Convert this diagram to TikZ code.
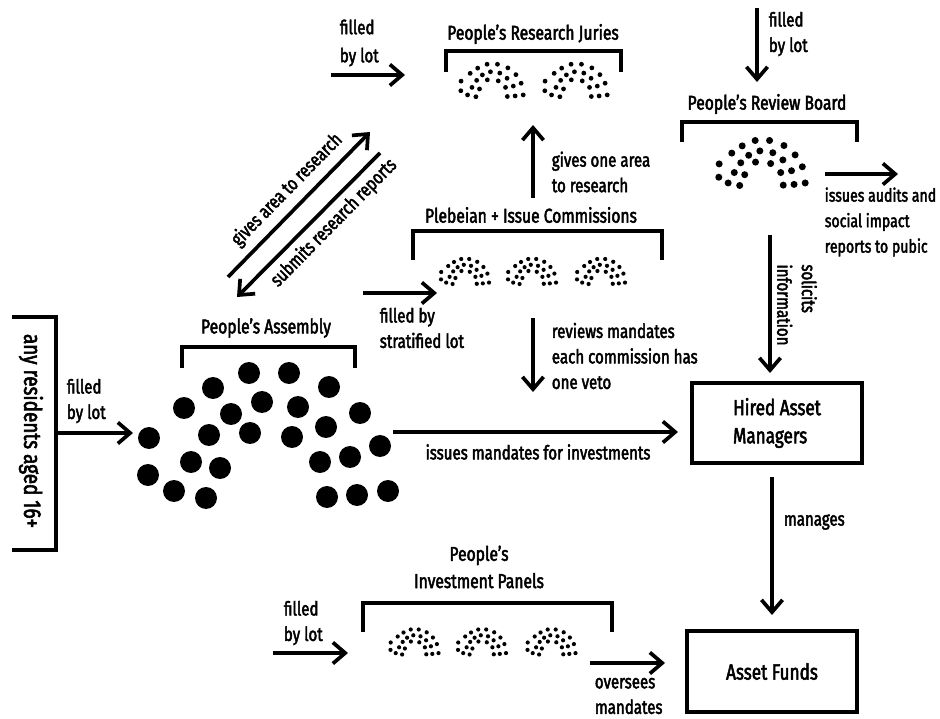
\documentclass[tikz,border=0pt]{standalone}
\usepackage{fontspec}
\setmainfont{Fira Sans}[FakeStretch=0.78,FakeBold=2.4]
\usetikzlibrary{arrows.meta}
\newcommand\hemicycle[4]{%
  \foreach \dx/\dy in {-119/2.5,-120/39.5,-94/55.5,-62/62.5,-77/26.5,-48/32.5,-84/-27.5,-59/-0.5,-55/-47.5,-37/-21.5,-18/-2.5,-19/-62.5,-6/-33.5,21/-62.5,30/-28.5,24/1.5,61/-48.5,58/-8.5,92/-22.5,82/21.5,52/26.5,112/10.5,59/61.5,89/59.5,120/55.5}{%
    \fill ({#1+#3*\dx},{#2+#3*\dy}) circle[radius=#4*0.02cm];}}
\begin{document}
\begin{tikzpicture}[x=0.02cm,y=-0.02cm,line width=2.1pt,
  arr/.style={-{Straight Barb[length=7pt,width=12pt]}},
  lab/.style={font=\fontsize{11}{14.5}\selectfont,align=left,anchor=west,inner sep=0pt},
  ttl/.style={font=\fontsize{11.4}{13}\selectfont,inner sep=0pt},
  bracket/.style={line width=2.1pt},
  boxnode/.style={draw,line width=2.1pt,minimum width=3.4cm,minimum height=1.6cm,font=\fontsize{12.5}{16}\selectfont,align=left,inner sep=0pt}]
\useasboundingbox (0,0) rectangle (940,719);

% left residents bracket
\draw[bracket] (12,317) -- (56,317) -- (56,550) -- (12,550);
\node[rotate=-90,font=\fontsize{13.8}{15}\selectfont,inner sep=0pt] (residents) at (31,431) {any residents aged 16+};

% People's Assembly
\node[ttl] (assemblyT) at (266,328) {People's Assembly};
\draw[bracket] (182,368) -- (182,347) -- (355,347) -- (355,368);
\hemicycle{268}{435.5}{1}{11}
\node[lab] (lotA) at (65,401) {filled\\by lot};
\coordinate (lotAs) at (57,433); \coordinate (lotAe) at (133,433);
\draw[arr] (lotAs) -- (lotAe);

% Research juries
\node[ttl] (juriesT) at (533,34) {People's Research Juries};
\draw[bracket] (446,72) -- (446,51) -- (621,51) -- (621,72);
\hemicycle{492}{80.5}{0.26}{2.4}
\hemicycle{576}{80.5}{0.26}{2.4}
\node[lab,font=\fontsize{11}{16}\selectfont] (lotJ) at (338,43) {filled\\by lot};
\coordinate (lotJs) at (331,75); \coordinate (lotJe) at (405,75);
\draw[arr] (lotJs) -- (lotJe);

% diagonal arrows
\coordinate (d1s) at (228,277); \coordinate (d1e) at (370,132);
\coordinate (d2s) at (380,153); \coordinate (d2e) at (237,297);
\draw[arr] (d1s) -- (d1e);
\draw[arr] (d2s) -- (d2e);
\node[rotate=45.5,font=\fontsize{11}{13}\selectfont,inner sep=0pt] (giveslab) at (287,190) {gives area to research};
\node[rotate=45.5,font=\fontsize{11}{13}\selectfont,inner sep=0pt] (submitslab) at (334,223) {submits research reports};

% Commissions
\node[ttl] (commT) at (531,215) {Plebeian + Issue Commissions};
\draw[bracket] (413,260) -- (413,231) -- (662,231) -- (662,260);
\hemicycle{465}{271.5}{0.2}{2.1}
\hemicycle{532}{271.5}{0.2}{2.1}
\hemicycle{601}{271.5}{0.2}{2.1}
\node[lab] (strat) at (378,328) {filled by\\stratified lot};
\coordinate (sts) at (363,293); \coordinate (ste) at (437,293);
\draw[arr] (sts) -- (ste);
\coordinate (g1s) at (533,198); \coordinate (g1e) at (533,125);
\draw[arr] (g1s) -- (g1e);
\node[lab] (givesone) at (550,172) {gives one area\\to research};
\coordinate (rvs) at (533,318); \coordinate (rve) at (533,392);
\draw[arr] (rvs) -- (rve);
\node[lab] (reviews) at (550,356) {reviews mandates\\each commission has\\one veto};

% Review board
\node[ttl] (reviewT) at (767,104) {People's Review Board};
\draw[bracket] (682,142) -- (682,122) -- (857,122) -- (857,142);
\hemicycle{762}{163}{0.36}{3.5}
\coordinate (lotRs) at (757,8); \coordinate (lotRe) at (757,82);
\draw[arr] (lotRs) -- (lotRe);
\node[lab] (lotR) at (767,34) {filled\\by lot};
\coordinate (aus) at (825,174); \coordinate (aue) at (898,174);
\draw[arr] (aus) -- (aue);
\node[lab,font=\fontsize{10.3}{14.5}\selectfont] (audits) at (823,222) {issues audits and\\social impact\\reports to pubic};
\coordinate (sos) at (770,235); \coordinate (soe) at (770,373);
\draw[arr] (sos) -- (soe);
\node[rotate=-90,font=\fontsize{11}{14}\selectfont,align=left,inner sep=0pt] (solicits) at (797,305) {solicits\\information};

% Boxes
\node[boxnode] (hired) at (777,423) {Hired Asset\\Managers};
\node[boxnode,minimum height=1.62cm] (funds) at (772,671.5) {Asset Funds};
\coordinate (ims) at (393,432); \coordinate (ime) at (678,432);
\draw[arr] (ims) -- (ime);
\node[font=\fontsize{11}{13}\selectfont,inner sep=0pt] (issues) at (538,452) {issues mandates for investments};
\coordinate (mgs) at (772,477); \coordinate (mge) at (772,615);
\draw[arr] (mgs) -- (mge);
\node[lab] (manages) at (782,522) {manages};

% Investment panels
\node[ttl,align=center,font=\fontsize{11.4}{15.5}\selectfont] (investT) at (479,567) {People's\\Investment Panels};
\draw[bracket] (363,632) -- (363,603) -- (612,603) -- (612,632);
\hemicycle{414.5}{642}{0.2}{2.1}
\hemicycle{482}{642}{0.2}{2.1}
\hemicycle{551.5}{642}{0.2}{2.1}
\node[lab] (lotI) at (282,623) {filled\\by lot};
\coordinate (lotIs) at (273,653); \coordinate (lotIe) at (348,653);
\draw[arr] (lotIs) -- (lotIe);
\coordinate (ovs) at (590,663); \coordinate (ove) at (665,663);
\draw[arr] (ovs) -- (ove);
\node[lab] (oversees) at (593,696) {oversees\\mandates};
\end{tikzpicture}
\end{document}
